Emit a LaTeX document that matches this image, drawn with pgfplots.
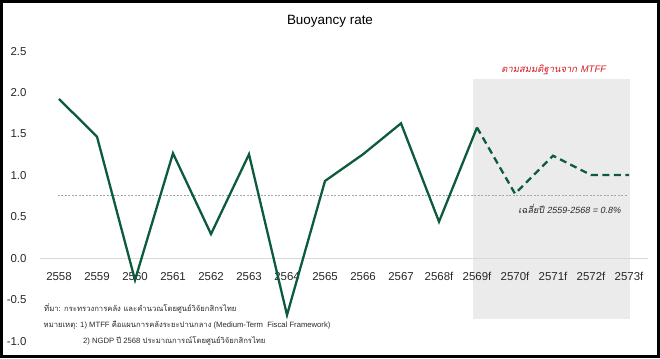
\documentclass[border=0pt]{standalone}
\usepackage{fontspec}
\usepackage{pgfplots}
\pgfplotsset{compat=1.18}
\setmainfont{Liberation Sans}
\newfontfamily\thai[Script=Thai]{Loma}
\newfontfamily\thaiit[Script=Thai,FakeSlant=0.2]{Loma}
\newfontfamily\latit[FakeSlant=0.2]{Liberation Sans}
\definecolor{kgreen}{RGB}{12,92,60}
\definecolor{regiongray}{RGB}{235,235,235}
\definecolor{zerogray}{RGB}{217,217,217}
\definecolor{kred}{RGB}{215,25,35}
\definecolor{txt}{RGB}{40,40,40}
\begin{document}
\begin{tikzpicture}[x=1bp,y=1bp]
\begin{axis}[
  set layers=standard,
  at={(40bp,16.9bp)}, anchor=south west,
  scale only axis, width=608bp, height=289.8bp,
  xmin=-0.5, xmax=15.5, ymin=-1, ymax=2.5,
  clip=false,
  axis line style={draw=none},
  major tick length=0pt,
  xtick={0,1,2,3,4,5,6,7,8,9,10,11,12,13,14,15},
  xticklabels={2558,2559,2560,2561,2562,2563,2564,2565,2566,2567,2568f,2569f,2570f,2571f,2572f,2573f},
  ytick={-1,-0.5,0,0.5,1,1.5,2,2.5},
  yticklabels={-1.0,-0.5,0.0,0.5,1.0,1.5,2.0,2.5},
  xticklabel style={anchor=center, inner sep=0pt, yshift=64.4bp, font=\fontsize{11.5}{13}\selectfont, text=txt},
  yticklabel style={anchor=east, inner sep=0pt, xshift=-13.3bp, font=\fontsize{11.5}{13}\selectfont, text=txt},
]
\pgfonlayer{axis background}
\addplot[draw=none, fill=regiongray] coordinates {(10.9,-0.733) (15.03,-0.733) (15.03,2.165) (10.9,2.165)} -- cycle;
\addplot[color=zerogray, line width=0.9bp] coordinates {(-0.5,0) (15.5,0)};
\endpgfonlayer
\addplot[color=gray!70, dash pattern=on 2bp off 1.5bp, line width=0.6bp] coordinates {(-0.03,0.757) (14.97,0.757)};
\addplot[color=kgreen, line width=2.3bp] coordinates {
(0,1.924) (1,1.469) (2,-0.262) (3,1.268) (4,0.293) (5,1.256) (6,-0.685) (7,0.934) (8,1.256) (9,1.63) (10,0.442) (11,1.58)};
\addplot[color=kgreen, line width=2.3bp, dash pattern=on 7bp off 4.5bp] coordinates {
(11,1.58) (12,0.78) (13,1.239) (14,1.006) (15,1.006)};
\end{axis}
\node[font=\fontsize{13.5}{15}\selectfont, text=black] at (330,336.3) {Buoyancy rate};
\node[font=\fontsize{9.5}{11}\selectfont, text=kred] at (553.5,288) {\thaiit ตามสมมติฐานจาก \latit MTFF};
\node[font=\fontsize{9}{11}\selectfont, text=txt, anchor=east, inner sep=0pt] at (620.7,149) {\thaiit เฉลี่ยปี \latit 2559-2568 = 0.8\%};
\node[font=\fontsize{7.7}{9}\selectfont, text=txt, anchor=west, inner sep=0pt] at (44,49.5) {\thai ที่มา: กระทรวงการคลัง และคำนวณโดยศูนย์วิจัยกสิกรไทย};
\node[font=\fontsize{7.7}{9}\selectfont, text=txt, anchor=west, inner sep=0pt] at (43.5,32.3) {{\thai หมายเหตุ:} 1) MTFF\ {\thai คือแผนการคลังระยะปานกลาง} (Medium-Term\ \ Fiscal Framework)};
\node[font=\fontsize{7.7}{9}\selectfont, text=txt, anchor=west, inner sep=0pt] at (83,17) {2) NGDP\ {\thai ปี} 2568\ {\thai ประมาณการณ์โดยศูนย์วิจัยกสิกรไทย}};
\draw[black, line width=2.6bp] (1.3,1.3) rectangle (658.7,356.7);
\end{tikzpicture}
\end{document}
